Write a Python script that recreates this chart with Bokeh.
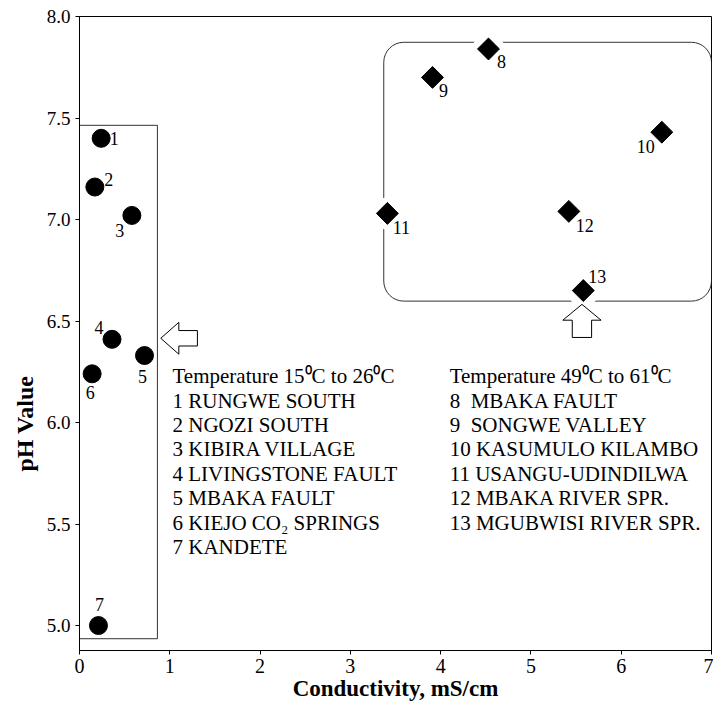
import math
from bokeh.plotting import figure
from bokeh.models import BoxAnnotation, Title, PrintfTickFormatter, ColumnDataSource
from bokeh.core.properties import value
from bokeh.embed import file_html
from bokeh.resources import INLINE

# ---- data ----
cond_low = [0.24, 0.17, 0.58, 0.36, 0.72, 0.14, 0.21]
ph_low = [7.40, 7.16, 7.02, 6.41, 6.33, 6.24, 5.00]
ids_low = ["1", "2", "3", "4", "5", "6", "7"]

cond_high = [4.53, 3.91, 6.45, 3.41, 5.42, 5.58]
ph_high = [7.84, 7.70, 7.43, 7.03, 7.04, 6.65]
ids_high = ["8", "9", "10", "11", "12", "13"]

legend_low = ["Temperature 15\u2070C to 26\u2070C", "1 RUNGWE SOUTH", "2 NGOZI SOUTH",
              "3 KIBIRA VILLAGE", "4 LIVINGSTONE FAULT", "5 MBAKA FAULT",
              "6 KIEJO CO\u2082 SPRINGS", "7 KANDETE"]
legend_high = ["Temperature 49\u2070C to 61\u2070C", "8\u00a0 MBAKA FAULT", "9\u00a0 SONGWE VALLEY",
               "10 KASUMULO KILAMBO", "11 USANGU-UDINDILWA", "12 MBAKA RIVER SPR.",
               "13 MGUBWISI RIVER SPR."]

x_ticks = [0, 1, 2, 3, 4, 5, 6, 7]
y_ticks = [5.0, 5.5, 6.0, 6.5, 7.0, 7.5, 8.0]

# label offsets (screen px) for point numbers
off_low = [(13, 0), (14, -8), (-12, 15), (-13, -12), (-2, 21), (-2, 19), (1, -21)]
off_high = [(13, 13), (11, 13), (-16, 14), (14, 14), (16, 14), (14, -14)]

SERIF = "Liberation Serif"

p = figure(width=713, height=708, x_range=(0, 7), y_range=(4.877, 8.0),
           output_backend="svg", toolbar_location=None,
           min_border_left=79, min_border_right=2, min_border_top=16, min_border_bottom=58)
p.grid.visible = False
p.outline_line_color = "black"
p.outline_line_width = 1
p.background_fill_color = "white"
p.border_fill_color = "white"

# axes
xa = p.xaxis[0]
ya = p.yaxis[0]
xa.ticker = x_ticks
ya.ticker = y_ticks
ya.formatter = PrintfTickFormatter(format="%.1f")
for ax in (xa, ya):
    ax.axis_line_color = "black"
    ax.major_tick_line_color = "black"
    ax.minor_tick_line_color = None
    ax.major_tick_in = 0
    ax.major_tick_out = 4
    ax.major_label_text_font = SERIF
    ax.major_label_text_color = "black"
xa.major_label_text_font_size = "20px"
ya.major_label_text_font_size = "19px"
xa.major_label_standoff = 4
ya.major_label_standoff = 5
xa.axis_label = "Conductivity, mS/cm"
xa.axis_label_text_font = SERIF
xa.axis_label_text_font_style = "bold"
xa.axis_label_text_font_size = "23px"
xa.axis_label_text_color = "black"
xa.axis_label_standoff = 0

p.add_layout(Title(text="pH Value", align="left", offset=179, text_font=SERIF,
                   text_font_style="bold", text_font_size="24px", text_color="black",
                   standoff=12), "left")

# group boxes
p.add_layout(BoxAnnotation(left=0, right=0.863, bottom=4.935, top=7.464,
                           fill_color=None, line_color="#333333", line_alpha=1, line_width=1,
                           level="underlay"))
p.add_layout(BoxAnnotation(left=3.37, right=7.0, bottom=6.598, top=7.873,
                           fill_color=None, line_color="#333333", line_alpha=1, line_width=1,
                           border_radius=20, level="underlay"))

src_low = ColumnDataSource(dict(x=cond_low, y=ph_low, t=ids_low,
                                dx=[o[0] for o in off_low], dy=[o[1] for o in off_low]))
src_high = ColumnDataSource(dict(x=cond_high, y=ph_high, t=ids_high,
                                 dx=[o[0] for o in off_high], dy=[o[1] for o in off_high]))

# white halo behind the diamonds (interrupts the rounded box outline)
p.scatter("x", "y", source=src_high, marker="circle", size=32, fill_color="white", line_color=None)

# hollow arrows (annotation shapes, data units)
ax_tip, ay_tip = 0.90, 6.415
left_arrow_x = [ax_tip, ax_tip + 0.20, ax_tip + 0.20, ax_tip + 0.406, ax_tip + 0.406, ax_tip + 0.20, ax_tip + 0.20]
left_arrow_y = [ay_tip, ay_tip + 0.0785, ay_tip + 0.038, ay_tip + 0.038, ay_tip - 0.038, ay_tip - 0.038, ay_tip - 0.0785]
p.patch(left_arrow_x, left_arrow_y, fill_color="white", line_color="black", line_width=1)

ux_tip, uy_tip = 5.565, 6.582
up_arrow_x = [ux_tip, ux_tip + 0.212, ux_tip + 0.107, ux_tip + 0.107, ux_tip - 0.107, ux_tip - 0.107, ux_tip - 0.212]
up_arrow_y = [uy_tip, uy_tip - 0.078, uy_tip - 0.078, uy_tip - 0.163, uy_tip - 0.163, uy_tip - 0.078, uy_tip - 0.078]
p.patch(up_arrow_x, up_arrow_y, fill_color="white", line_color="black", line_width=1)

# markers
p.scatter("x", "y", source=src_low, marker="circle", size=18, fill_color="black", line_color="black")
p.scatter("x", "y", source=src_high, marker="square", size=15.5, angle=math.pi / 4,
          fill_color="black", line_color="black")

for src in (src_low, src_high):
    p.text("x", "y", text="t", source=src, x_offset="dx", y_offset="dy",
           text_align="center", text_baseline="middle", text_font=value(SERIF),
           text_font_size="18px", text_color="black")

# legend texts
y0 = 6.229
step = 0.1206
p.text([1.03] * len(legend_low), [y0 - i * step for i in range(len(legend_low))], text=legend_low,
       text_align="left", text_baseline="middle", text_font=value(SERIF),
       text_font_size="21px", text_color="black")
p.text([4.10] * len(legend_high), [y0 - i * step for i in range(len(legend_high))], text=legend_high,
       text_align="left", text_baseline="middle", text_font=value(SERIF),
       text_font_size="21px", text_color="black")

open("out.html", "w").write(file_html(p, INLINE))
